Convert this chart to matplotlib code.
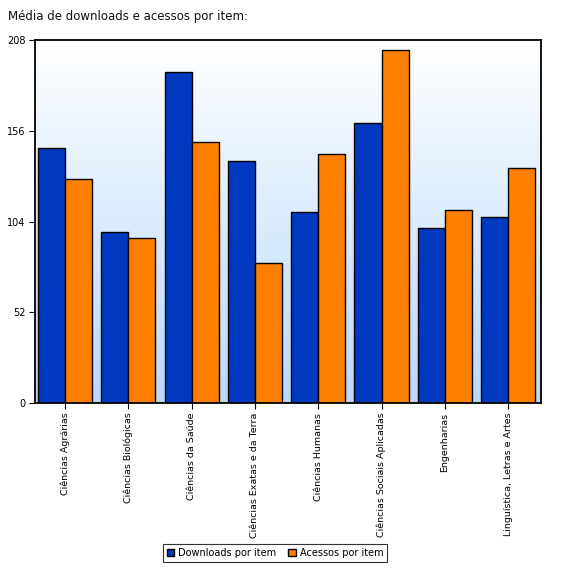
import matplotlib.pyplot as plt
import numpy as np
from matplotlib.patches import Patch
from matplotlib.colors import LinearSegmentedColormap

categories = ["Ciências Agrárias", "Ciências Biológicas", "Ciências da Saúde",
              "Ciências Exatas e da Terra", "Ciências Humanas",
              "Ciências Sociais Aplicadas", "Engenharias",
              "Linguística, Letras e Artes"]
downloads = [146.4, 98.1, 189.5, 138.9, 109.6, 160.2, 100.4, 106.7]
acessos = [128.6, 94.7, 149.8, 80.5, 142.4, 202.1, 110.7, 134.9]
y_ticks = [0, 52, 104, 156, 208]

blue = "#0039c0"
orange = "#ff8000"

fig = plt.figure(figsize=(5.61, 5.69), dpi=100)
ax = fig.add_axes([0.0624, 0.2917, 0.902, 0.638])

# gradient background: white at top, light blue at bottom
grad = np.linspace(0, 1, 256).reshape(-1, 1)
cmap = LinearSegmentedColormap.from_list("bg", ["#b8d9fb", "#ffffff"])
ax.imshow(grad, cmap=cmap, aspect="auto", origin="lower",
          extent=[-0.474, 7.52, 0, 208], zorder=0)

x = np.arange(len(categories))
w = 0.427
ax.bar(x - w / 2, downloads, w, color=blue, edgecolor="black",
       linewidth=1, zorder=2)
ax.bar(x + w / 2, acessos, w, color=orange, edgecolor="black",
       linewidth=1, zorder=2)

ax.set_xlim(-0.474, 7.52)
ax.set_ylim(0, 208)
ax.set_yticks(y_ticks)
ax.set_yticklabels([str(v) for v in y_ticks], fontsize=7)
ax.set_xticks(x)
ax.set_xticklabels(categories, rotation=90, fontsize=6.8)
ax.tick_params(length=4, width=0.8, pad=3)
for s in ax.spines.values():
    s.set_linewidth(1.3)

fig.text(0.014, 0.982, "Média de downloads e acessos por item:",
         fontsize=8.5, va="top", ha="left", color="#111111")

handles = [Patch(facecolor=blue, edgecolor="black", label="Downloads por item"),
           Patch(facecolor=orange, edgecolor="black", label="Acessos por item")]
leg = fig.legend(handles=handles, loc="center", bbox_to_anchor=(0.49, 0.028),
                 ncol=2, fontsize=7, frameon=True, fancybox=False,
                 handlelength=0.8, handleheight=0.8, handletextpad=0.4,
                 columnspacing=1.2, borderpad=0.4)
leg.get_frame().set_edgecolor("black")
leg.get_frame().set_linewidth(0.8)

fig.savefig("out.png", dpi=100)
